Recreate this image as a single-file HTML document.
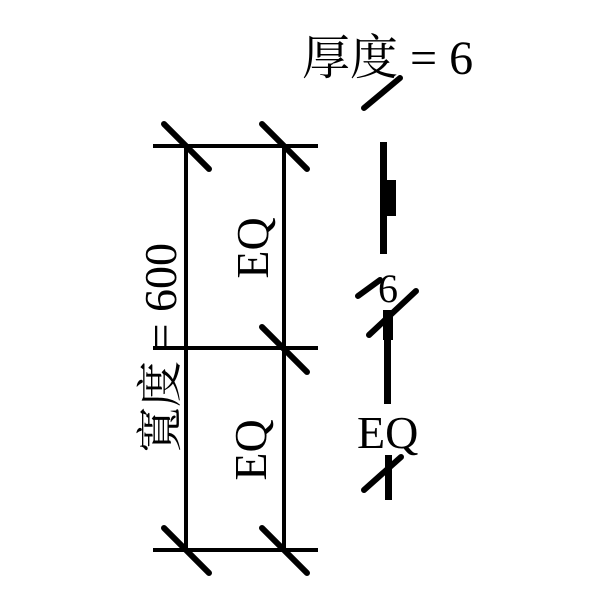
<!DOCTYPE html>
<html><head><style>
body{margin:0;background:#fff;width:600px;height:600px;overflow:hidden}
text{font-family:"Liberation Serif","Noto Serif CJK TC","Noto Serif CJK SC",serif;fill:#000}
</style></head><body>
<svg width="600" height="600" xmlns="http://www.w3.org/2000/svg">
<g stroke="#000" stroke-width="4" fill="none">
<line x1="186" y1="146" x2="186" y2="550"/>
<line x1="284" y1="146" x2="284" y2="550"/>
<line x1="153" y1="146" x2="318" y2="146"/>
<line x1="153" y1="348" x2="318" y2="348"/>
<line x1="153" y1="550" x2="318" y2="550"/>
</g>
<g stroke="#000" stroke-width="6" stroke-linecap="round">
<line x1="164" y1="124" x2="209" y2="169"/>
<line x1="262" y1="124" x2="307" y2="169"/>
<line x1="262" y1="327" x2="307" y2="372"/>
<line x1="164" y1="528" x2="209" y2="573"/>
<line x1="262" y1="528" x2="307" y2="573"/>
<line x1="364" y1="108" x2="400" y2="78"/>
<line x1="358" y1="296" x2="380" y2="280"/>
<line x1="369" y1="335" x2="416" y2="291"/>
<line x1="364" y1="490" x2="401" y2="457"/>
</g>
<g fill="#000">
<rect x="380" y="142" width="7" height="112"/>
<rect x="385" y="180" width="11" height="36"/>
<rect x="383" y="310" width="10" height="30"/>
<rect x="384" y="330" width="7" height="74"/>
<rect x="385" y="455" width="7" height="45"/>
</g>
<text x="302" y="74" font-size="48">厚度 = 6</text>
<text x="378" y="302" font-size="40">6</text>
<text x="357" y="448" font-size="46">EQ</text>
<text transform="translate(176,348) rotate(-90)" font-size="46" text-anchor="middle">寬度 = 600</text>
<text transform="translate(268,248) rotate(-90)" font-size="46" text-anchor="middle">EQ</text>
<text transform="translate(266,450) rotate(-90)" font-size="46" text-anchor="middle">EQ</text>
</svg>
</body></html>
